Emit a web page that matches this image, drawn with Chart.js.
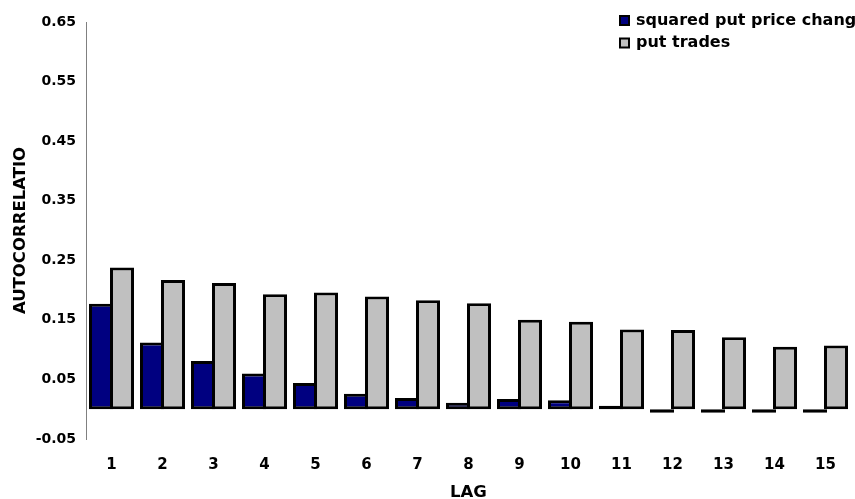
<!DOCTYPE html>
<html><head><meta charset="utf-8">
<script src="https://cdn.jsdelivr.net/npm/chart.js@4/dist/chart.umd.min.js"></script>
<style>html,body{margin:0;padding:0;background:#fff;overflow:hidden}#wrap{width:855px;height:499px;position:relative}</style>
</head><body><div id="wrap"><canvas id="c" width="855" height="499"></canvas></div>
<script>
const lags = ['1','2','3','4','5','6','7','8','9','10','11','12','13','14','15'];
const squaredPutPriceChange = [0.177, 0.112, 0.081, 0.060, 0.044, 0.026, 0.019, 0.011, 0.017, 0.015, 0.006, -0.006, -0.006, -0.006, -0.006];
const putTrades = [0.238, 0.217, 0.212, 0.193, 0.196, 0.189, 0.183, 0.178, 0.150, 0.147, 0.134, 0.133, 0.121, 0.105, 0.107];
const yTickValues = [-0.05, 0.05, 0.15, 0.25, 0.35, 0.45, 0.55, 0.65];
const seriesLabels = ['squared put price change', 'put trades'];
const seriesColors = ['#000080', '#C0C0C0'];
const yTitle = 'AUTOCORRELATIO';
const xTitle = 'LAG';

const FAMILY = '"DejaVu Sans", sans-serif';

const legendPlugin = {
  id: 'boxLegend',
  afterDraw(chart) {
    const ctx = chart.ctx;
    ctx.save();
    ctx.font = 'bold 16px ' + FAMILY;
    ctx.textBaseline = 'middle';
    ctx.textAlign = 'left';
    chart.data.datasets.forEach((ds, i) => {
      const top = 15 + i * 22.5;
      ctx.fillStyle = '#000';
      ctx.fillRect(619, top, 11, 11);
      ctx.fillStyle = ds.backgroundColor;
      ctx.fillRect(621, top + 2, 7, 7);
      ctx.fillStyle = '#000';
      ctx.fillText(ds.label, 636, top + 5.5);
    });
    ctx.restore();
  }
};

new Chart(document.getElementById('c'), {
  type: 'bar',
  data: {
    labels: lags,
    datasets: [
      { label: seriesLabels[0], data: squaredPutPriceChange, backgroundColor: seriesColors[0] },
      { label: seriesLabels[1], data: putTrades, backgroundColor: seriesColors[1] }
    ]
  },
  options: {
    responsive: false,
    animation: false,
    devicePixelRatio: 1,
    layout: { padding: { top: 22, right: 4, left: 0, bottom: 0 } },
    datasets: {
      bar: {
        borderColor: '#000',
        borderWidth: 3,
        borderSkipped: false,
        categoryPercentage: 0.824,
        barPercentage: 1.143
      }
    },
    plugins: {
      legend: { display: false },
      tooltip: { enabled: false },
      title: { display: false }
    },
    scales: {
      x: {
        type: 'category',
        offset: true,
        grid: { display: false, drawTicks: false },
        border: { display: false },
        ticks: {
          color: '#000', padding: 17, maxRotation: 0, autoSkip: false,
          font: { family: FAMILY, size: 15, weight: 'bold' }
        },
        title: {
          display: true, text: xTitle, color: '#000',
          font: { family: FAMILY, size: 16.5, weight: 'bold', lineHeight: 0.8 },
          padding: { top: 0, bottom: 0 }
        },
        afterFit(s) { s.height = 60; }
      },
      y: {
        min: -0.05, max: 0.65,
        afterBuildTicks(s) { s.ticks = yTickValues.map(v => ({ value: v })); },
        grid: { display: false, drawTicks: false },
        border: { display: true, color: '#808080', width: 1 },
        ticks: {
          color: '#000', padding: 10,
          font: { family: FAMILY, size: 14, weight: 'bold' },
          callback: v => Number(v).toFixed(2)
        },
        title: {
          display: true, text: yTitle, color: '#000',
          font: { family: FAMILY, size: 16.5, weight: 'bold' },
          padding: { top: 11, bottom: 0 }
        },
        afterFit(s) { s.width = 86; }
      }
    }
  },
  plugins: [legendPlugin]
});
</script>
</body></html>
